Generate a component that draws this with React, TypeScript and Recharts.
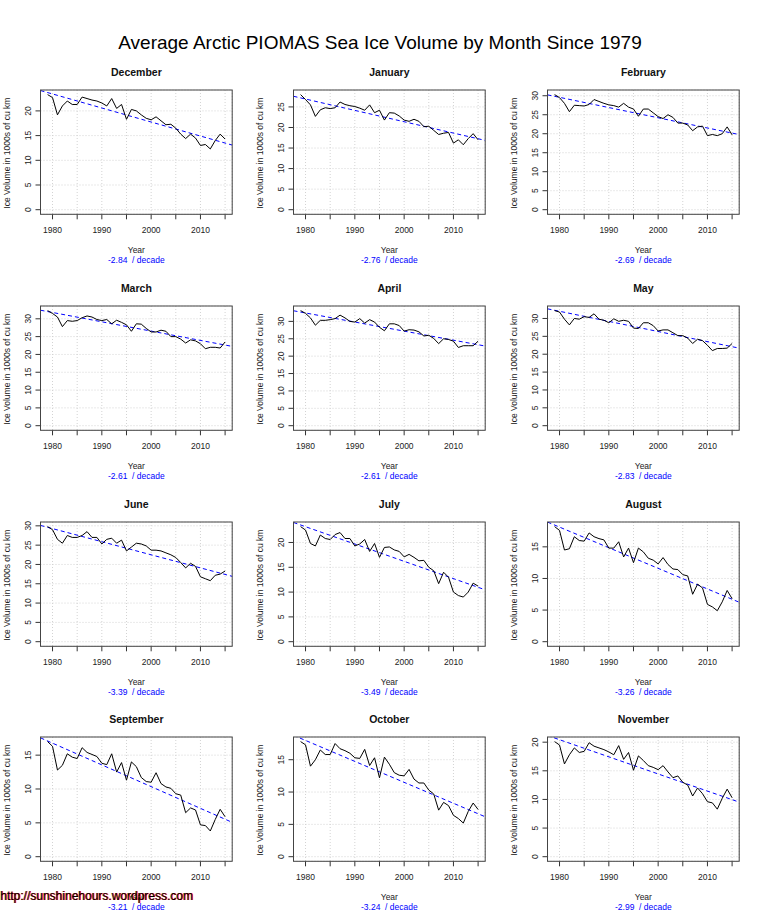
import { LineChart, Line, XAxis, YAxis, CartesianGrid } from 'recharts';

// PIOMAS monthly ice volume, 1000s of km3
const years = [
  1979, 1980, 1981, 1982, 1983, 1984, 1985, 1986, 1987, 1988, 1989, 1990, 1991,
  1992, 1993, 1994, 1995, 1996, 1997, 1998, 1999, 2000, 2001, 2002, 2003, 2004,
  2005, 2006, 2007, 2008, 2009, 2010, 2011, 2012, 2013, 2014, 2015,
];

const december = [23.3, 22.7, 19.2, 21.0, 22.0, 21.3, 21.3, 22.8, 22.5, 22.2, 22.0, 21.6, 21.0, 22.5, 20.5, 21.3, 18.3, 20.3, 20.0, 19.2, 18.5, 18.2, 18.8, 18.0, 17.2, 17.3, 16.5, 15.3, 14.4, 15.3, 14.5, 13.0, 13.2, 12.3, 14.0, 15.3, 14.3];
const january = [28.0, 26.8, 25.5, 22.7, 24.3, 24.8, 24.6, 24.8, 26.2, 25.6, 25.3, 25.1, 24.7, 24.2, 25.5, 23.6, 24.2, 21.8, 23.6, 23.5, 22.8, 21.8, 21.5, 22.0, 21.5, 20.2, 20.3, 19.3, 18.3, 18.6, 18.8, 16.2, 17.0, 15.8, 17.3, 18.5, 17.0];
const february = [30.3, 29.5, 28.0, 25.8, 27.5, 27.4, 27.3, 27.7, 29.0, 28.5, 28.0, 27.6, 27.4, 27.0, 28.0, 27.0, 26.5, 24.6, 26.5, 26.5, 25.5, 24.5, 24.0, 25.0, 24.3, 22.8, 22.8, 22.3, 20.8, 21.8, 22.0, 19.5, 19.8, 19.5, 20.0, 21.8, 19.7];
const march = [32.3, 31.5, 30.5, 27.8, 29.5, 29.3, 29.5, 30.3, 30.8, 30.5, 29.8, 29.5, 29.8, 28.6, 29.6, 29.0, 28.3, 26.5, 28.6, 28.5, 27.3, 26.3, 26.3, 26.8, 26.5, 25.0, 25.0, 24.3, 23.2, 24.1, 23.8, 23.0, 21.6, 22.0, 22.0, 21.8, 23.5];
const april = [33.1, 32.3, 31.0, 28.9, 30.3, 30.3, 30.5, 30.8, 31.8, 31.0, 30.0, 29.8, 30.8, 29.5, 30.5, 29.8, 28.3, 27.3, 29.3, 29.3, 28.8, 27.2, 27.6, 27.5, 27.0, 25.8, 26.0, 25.1, 23.6, 25.0, 24.8, 24.3, 22.5, 23.0, 23.0, 23.0, 24.3];
const may = [32.2, 31.8, 29.8, 28.2, 30.0, 29.8, 30.5, 30.3, 31.3, 29.8, 29.5, 28.8, 29.9, 29.2, 29.5, 29.2, 27.3, 27.2, 28.8, 28.8, 28.0, 26.5, 26.8, 26.8, 26.0, 25.2, 25.2, 24.5, 23.0, 24.2, 23.8, 22.5, 21.0, 21.6, 21.6, 21.7, 23.0];
const june = [29.8, 29.0, 26.5, 25.5, 27.5, 27.0, 27.0, 27.5, 28.5, 27.0, 27.0, 25.3, 26.5, 26.8, 25.5, 26.3, 23.5, 24.5, 25.5, 25.3, 24.8, 23.7, 23.7, 23.5, 23.0, 22.5, 21.8, 20.5, 19.1, 20.3, 19.5, 16.8, 16.3, 15.8, 17.2, 17.5, 18.3];
const july = [23.2, 22.5, 19.8, 19.3, 21.5, 20.8, 20.6, 21.6, 22.0, 20.8, 20.8, 19.3, 19.7, 20.6, 18.2, 19.8, 17.0, 19.0, 19.1, 18.5, 18.2, 17.1, 17.6, 17.0, 16.3, 16.4, 15.0, 14.3, 11.7, 14.0, 13.0, 10.0, 9.3, 9.0, 10.0, 11.8, 11.2];
const august = [18.2, 17.6, 14.5, 14.7, 16.6, 16.0, 15.9, 17.2, 16.6, 16.3, 16.1, 14.8, 14.8, 15.8, 13.4, 14.8, 12.5, 14.8, 14.2, 13.2, 12.9, 12.3, 13.3, 12.2, 11.5, 11.4, 10.6, 10.4, 7.5, 9.1, 8.5, 5.9, 5.5, 4.9, 6.3, 8.1, 6.8];
const september = [17.0, 16.3, 12.8, 13.5, 15.2, 14.7, 14.5, 16.1, 15.4, 15.1, 14.8, 13.8, 13.6, 15.2, 12.5, 13.9, 11.3, 14.0, 13.3, 11.7, 11.1, 11.0, 12.4, 10.8, 10.3, 10.1, 9.3, 9.1, 6.5, 7.2, 6.9, 4.7, 4.6, 3.8, 5.5, 7.0, 5.9];
const october = [17.8, 17.3, 14.0, 15.0, 16.5, 15.8, 15.8, 17.5, 16.7, 16.4, 16.0, 15.3, 15.2, 16.6, 14.1, 15.3, 12.2, 15.4, 14.3, 13.0, 12.6, 12.5, 13.5, 12.0, 11.4, 11.4, 10.3, 9.7, 7.2, 8.4, 7.9, 6.4, 5.9, 5.2, 7.0, 8.3, 7.3];
const november = [20.1, 19.5, 16.2, 17.8, 19.0, 18.2, 18.4, 19.9, 19.3, 19.0, 18.7, 18.3, 17.8, 19.4, 17.0, 18.2, 15.1, 17.6, 16.8, 15.9, 15.6, 15.2, 15.9, 14.8, 13.8, 14.1, 13.0, 12.5, 10.6, 12.0, 11.0, 9.6, 9.4, 8.3, 10.2, 11.8, 10.3];

// grid order, left to right, top to bottom
const monthNames = ['December', 'January', 'February', 'March', 'April', 'May', 'June', 'July', 'August', 'September', 'October', 'November'];
const monthValues = [december, january, february, march, april, may, june, july, august, september, october, november];
// trend slope per decade (from the labels) and trend level at 2000
const slopes = [-2.84, -2.76, -2.69, -2.61, -2.61, -2.83, -3.39, -3.49, -3.26, -3.21, -3.24, -2.99];
const trendAt2000 = [17.75, 21.4, 24.2, 26.55, 27.2, 26.35, 22.5, 16.2, 11.6, 10.35, 11.5, 14.45];

const xTicks = [1980, 1985, 1990, 1995, 2000, 2005, 2010, 2015];
const yTicks = [0, 5, 10, 15, 20, 25, 30, 35];

const FONT = '"Liberation Sans", Arial, Helvetica, sans-serif';
const COL_W = 253.33;
const BOX_TOPS = [90, 306, 521.7, 737.3];
const PANEL_W = 253;
const PANEL_H = 215;
const TOP = 30;
const LEFT = 40.5;
const BOX_W = 191.7;
const BOX_H = 124.3;
const X_DOMAIN: [number, number] = [1977.56, 2016.44];

function XTick(props: any) {
  const { x, payload } = props;
  if (payload.value % 10 !== 0) return <g />;
  return (
    <text x={x} y={TOP + BOX_H + 19} textAnchor="middle" fontSize={8.5} fontFamily={FONT} fill="#222">
      {payload.value}
    </text>
  );
}

function YTick(props: any) {
  const { y, payload } = props;
  return (
    <text
      transform={`translate(31,${y}) rotate(-90)`}
      textAnchor="middle"
      fontSize={8.5}
      fontFamily={FONT}
      fill="#222"
    >
      {payload.value}
    </text>
  );
}

type PanelProps = {
  name: string;
  values: number[];
  slope: number;
  level: number;
  left: number;
  top: number;
};

function MonthPanel({ name, values, slope, level, left, top }: PanelProps) {
  const data = years.map((year, i) => ({ year, v: values[i] }));
  const maxV = Math.max(...values);
  const yDomain: [number, number] = [-0.04 * maxV, 1.04 * maxV];
  const ticks = yTicks.filter((t) => t <= yDomain[1]);
  const trend = X_DOMAIN.map((year) => ({ year, t: level + (slope / 10) * (year - 2000) }));
  const cx = LEFT + BOX_W / 2;
  const bottom = TOP + BOX_H;

  return (
    <div style={{ position: 'absolute', left, top, width: PANEL_W, height: PANEL_H }}>
      <LineChart
        width={PANEL_W}
        height={PANEL_H}
        data={data}
        margin={{ top: TOP, right: PANEL_W - LEFT - BOX_W, bottom: 0, left: 0 }}
      >
        <CartesianGrid stroke="#d3d3d3" strokeDasharray="1 2" />
        <XAxis
          type="number"
          dataKey="year"
          domain={X_DOMAIN}
          ticks={xTicks}
          interval={0}
          allowDataOverflow
          height={PANEL_H - TOP - BOX_H}
          axisLine={false}
          tickSize={5}
          tickLine={{ stroke: '#333' }}
          tick={XTick}
        />
        <YAxis
          type="number"
          domain={yDomain}
          ticks={ticks}
          interval={0}
          allowDataOverflow
          width={LEFT}
          axisLine={false}
          tickSize={5}
          tickLine={{ stroke: '#333' }}
          tick={YTick}
        />
        <Line
          data={trend}
          dataKey="t"
          stroke="#0000ff"
          strokeWidth={1}
          strokeDasharray="4 3"
          dot={false}
          isAnimationActive={false}
        />
        <Line dataKey="v" stroke="#000" strokeWidth={1} dot={false} isAnimationActive={false} />
      </LineChart>
      <svg
        width={PANEL_W}
        height={PANEL_H}
        style={{ position: 'absolute', left: 0, top: 0, pointerEvents: 'none' }}
        fontFamily={FONT}
      >
        <rect x={LEFT} y={TOP} width={BOX_W} height={BOX_H} fill="none" stroke="#444" strokeWidth={1} />
        <text x={cx} y={TOP - 14.5} textAnchor="middle" fontSize={10.5} fontWeight="bold" fill="#111">
          {name}
        </text>
        <text
          transform={`translate(10,${TOP + BOX_H / 2 + 1}) rotate(-90)`}
          textAnchor="middle"
          fontSize={8.5}
          fill="#222"
        >
          Ice Volume in 1000s of cu km
        </text>
        <text x={cx} y={bottom + 38.7} textAnchor="middle" fontSize={8.5} fill="#222">
          Year
        </text>
        <text x={cx} y={bottom + 49} textAnchor="middle" fontSize={8.5} fill="#0000ff" style={{ whiteSpace: 'pre' }}>
          {`${slope.toFixed(2)}  / decade`}
        </text>
      </svg>
    </div>
  );
}

export default function App() {
  return (
    <div style={{ position: 'absolute', left: 0, top: 0, width: 760, height: 912, background: '#fff', overflow: 'hidden' }}>
      {monthNames.map((name, i) => (
        <MonthPanel
          key={name}
          name={name}
          values={monthValues[i]}
          slope={slopes[i]}
          level={trendAt2000[i]}
          left={(i % 3) * COL_W}
          top={BOX_TOPS[Math.floor(i / 3)] - TOP}
        />
      ))}
      <svg
        width={760}
        height={912}
        style={{ position: 'absolute', left: 0, top: 0, pointerEvents: 'none' }}
        fontFamily={FONT}
      >
        <text x={380} y={49} textAnchor="middle" fontSize={19} fill="#000">
          Average Arctic PIOMAS Sea Ice Volume by Month Since 1979
        </text>
        <text x={1} y={900} fontSize={12} fill="#ff0000">
          http://sunshinehours.wordpress.com
        </text>
        <text x={0} y={900} fontSize={12} fill="#000">
          http://sunshinehours.wordpress.com
        </text>
      </svg>
    </div>
  );
}
